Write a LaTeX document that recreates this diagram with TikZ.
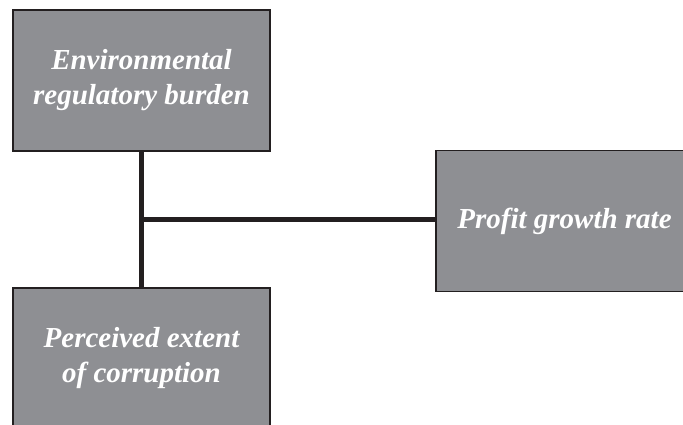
\documentclass[tikz,border=0pt]{standalone}
\usepackage{fontspec}
\setmainfont{Liberation Serif}
\usetikzlibrary{positioning}
\definecolor{boxgray}{RGB}{142,143,147}
\definecolor{inkdark}{RGB}{35,31,32}
\tikzset{
  factor/.style={draw=inkdark, line width=1.5pt, fill=boxgray, text=white,
    minimum width=257pt, minimum height=141pt, inner sep=0pt, align=center,
    font=\fontsize{29}{35}\selectfont\bfseries\itshape},
  link/.style={draw=inkdark, line width=5pt}
}

\begin{document}
\begin{tikzpicture}[x=1pt, y=-1pt]
      \useasboundingbox (0,0) rectangle (683,425);
      \clip (0,0) rectangle (683,425);
      % boxes
      \node[factor] (burden) at (141.5, 80.5) {Environmental\\regulatory burden};
      \node[factor] (corrupt) at (141.5, 358.5) {Perceived extent\\of corruption};
      \node[factor] (growth) at (564.5, 221) {Profit growth rate};
      % lines
      \draw[link] (burden) -- (corrupt);
      \coordinate (junc) at (burden.south |- 0,219.5);
      \draw[link] (junc) -- (junc -| growth.west);
    \end{tikzpicture}
\end{document}
